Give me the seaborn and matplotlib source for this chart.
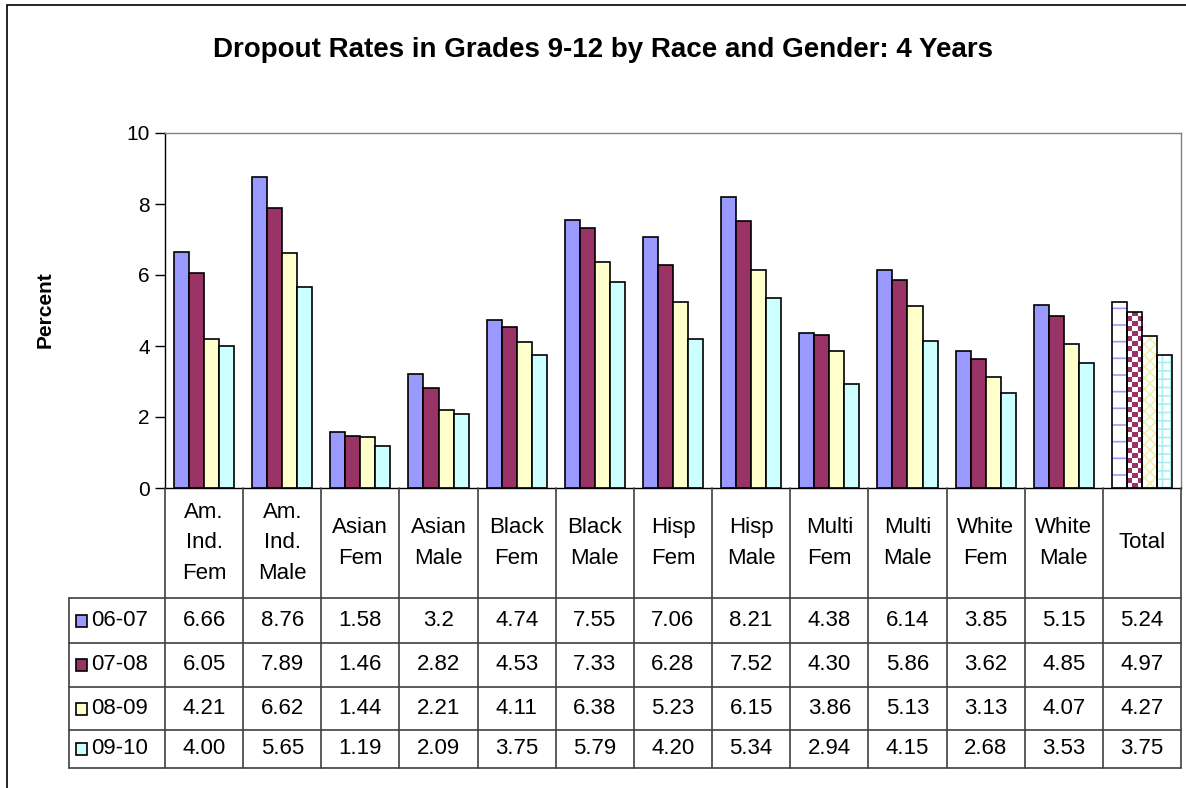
import numpy as np
import pandas as pd
import matplotlib
matplotlib.use("Agg")
import matplotlib.pyplot as plt
import seaborn as sns
from matplotlib.patches import Rectangle
from matplotlib.colors import ListedColormap
from matplotlib.transforms import blended_transform_factory

# categories and table header labels
categories = ["Am. Ind. Fem", "Am. Ind. Male", "Asian Fem", "Asian Male", "Black Fem",
              "Black Male", "Hisp Fem", "Hisp Male", "Multi Fem", "Multi Male",
              "White Fem", "White Male", "Total"]
header_labels = ["Am.\nInd.\nFem", "Am.\nInd.\nMale", "Asian\nFem", "Asian\nMale", "Black\nFem",
                 "Black\nMale", "Hisp\nFem", "Hisp\nMale", "Multi\nFem", "Multi\nMale",
                 "White\nFem", "White\nMale", "Total"]
periods = ["06-07", "07-08", "08-09", "09-10"]

# values as shown in the data table
vals_0607 = ["6.66", "8.76", "1.58", "3.2", "4.74", "7.55", "7.06", "8.21", "4.38", "6.14", "3.85", "5.15", "5.24"]
vals_0708 = ["6.05", "7.89", "1.46", "2.82", "4.53", "7.33", "6.28", "7.52", "4.30", "5.86", "3.62", "4.85", "4.97"]
vals_0809 = ["4.21", "6.62", "1.44", "2.21", "4.11", "6.38", "5.23", "6.15", "3.86", "5.13", "3.13", "4.07", "4.27"]
vals_0910 = ["4.00", "5.65", "1.19", "2.09", "3.75", "5.79", "4.20", "5.34", "2.94", "4.15", "2.68", "3.53", "3.75"]
all_vals = [vals_0607, vals_0708, vals_0809, vals_0910]

colors = ["#9999FF", "#993366", "#FFFFCC", "#CCFFFF"]
hatch_colors = ["#9999FF", "#993366", "#F0F0A8", "#A8F0F0"]

rows = []
for per, vals in zip(periods, all_vals):
    for cat, v in zip(categories, vals):
        rows.append({"Group": cat, "Period": per, "Percent": float(v)})
df = pd.DataFrame(rows)

sns.set_style("white")
plt.rcParams["font.family"] = ["Liberation Sans", "DejaVu Sans"]
plt.rcParams["text.color"] = "black"
plt.rcParams["hatch.linewidth"] = 1.2

W, H = 1186, 788
fig = plt.figure(figsize=(W / 100, H / 100), dpi=100)
ax = fig.add_axes([165 / W, 1 - 488 / H, (1181 - 165) / W, (488 - 133) / H])

sns.barplot(data=df, x="Group", y="Percent", hue="Period", palette=colors,
            width=0.77, edgecolor="black", linewidth=1.2, saturation=1,
            legend=False, ax=ax)

ax.set_xlim(-0.5, len(categories) - 0.5)
ax.set_ylim(0, 10)
ax.set_yticks(np.arange(0, 11, 2))
ax.set_xticks([])
ax.set_xlabel("")
ax.set_ylabel("")
ax.tick_params(axis="y", which="both", left=True, direction="out", length=7,
               width=1, colors="black", labelsize=15, pad=4)
for s in ["left", "bottom"]:
    ax.spines[s].set_color("black")
    ax.spines[s].set_linewidth(1)
for s in ["top", "right"]:
    ax.spines[s].set_color("#808080")
    ax.spines[s].set_linewidth(1)

# patterned "Total" bars
hatches = ["-", None, "xxx", "++"]
for h, cont in enumerate(ax.containers):
    p = cont.patches[-1]
    x0, y0, bw, bh = p.get_x(), p.get_y(), p.get_width(), p.get_height()
    if hatches[h] is not None:
        p.set_facecolor("white")
        p.set_edgecolor(hatch_colors[h])
        p.set_hatch(hatches[h])
        p.set_linewidth(0)
    else:
        # checkerboard texture
        p.set_facecolor("none")
        p.set_linewidth(0)
        (dx0, dy0), (dx1, dy1) = ax.transData.transform([(x0, y0), (x0 + bw, y0 + bh)])
        nx = max(1, int(round((dx1 - dx0) / 5)))
        ny = max(1, int(round((dy1 - dy0) / 5)))
        board = (np.add.outer(np.arange(ny), np.arange(nx)) % 2).astype(float)
        im = ax.imshow(board, extent=(x0, x0 + bw, y0, y0 + bh), origin="lower",
                       cmap=ListedColormap(["white", colors[h]]), aspect="auto",
                       interpolation="nearest", zorder=0.9)
        im.set_clip_path(p)
    ax.add_patch(Rectangle((x0, y0), bw, bh, fill=False, edgecolor="black",
                           linewidth=1.2, zorder=3))
ax.set_xlim(-0.5, len(categories) - 0.5)
ax.set_ylim(0, 10)

# title and y label
fig.text(603 / W, 1 - 50 / H, "Dropout Rates in Grades 9-12 by Race and Gender: 4 Years",
         ha="center", va="center", fontsize=20, fontweight="bold")
fig.text(45 / W, 1 - 310 / H, "Percent", rotation=90, ha="center", va="center",
         fontsize=15, fontweight="bold")

# data table below the axis
tr = blended_transform_factory(ax.transData, fig.transFigure)
def fy(py):
    return 1 - py / H

n = len(categories)
header_top, header_bot = 488, 598
row_edges = [598, 643, 687, 730, 768]
legend_left = 69
lc = "#404040"

# horizontal lines
for yy in row_edges:
    fig.add_artist(plt.Line2D([legend_left / W, 1181 / W], [fy(yy), fy(yy)],
                              color=lc, linewidth=1.2))
# vertical lines
for i in range(n + 1):
    fig.add_artist(plt.Line2D([i - 0.5, i - 0.5], [fy(header_top), fy(row_edges[-1])],
                              transform=tr, color=lc, linewidth=1.2))
fig.add_artist(plt.Line2D([legend_left / W, legend_left / W], [fy(row_edges[0]), fy(row_edges[-1])],
                          color=lc, linewidth=1.2))

# header text
for i, lab in enumerate(header_labels):
    fig.text(i, fy((header_top + header_bot) / 2), lab, transform=tr, ha="center",
             va="center", fontsize=16, linespacing=1.6)

# rows
for r, (per, vals) in enumerate(zip(periods, all_vals)):
    ymid = fy((row_edges[r] + row_edges[r + 1]) / 2)
    fig.add_artist(Rectangle((76 / W, ymid - 6 / H), 11 / W, 12 / H, facecolor=colors[r],
                             edgecolor="black", linewidth=1.2, transform=fig.transFigure))
    fig.text(91 / W, ymid, per, ha="left", va="center", fontsize=16)
    for i, v in enumerate(vals):
        fig.text(i, ymid, v, transform=tr, ha="center", va="center", fontsize=16)

# outer chart border
fig.add_artist(Rectangle((7 / W, -0.05), 1.2, 1 - 5 / H + 0.05, fill=False,
                         edgecolor="black", linewidth=1.2, transform=fig.transFigure))

fig.savefig("out.png", dpi=100)
